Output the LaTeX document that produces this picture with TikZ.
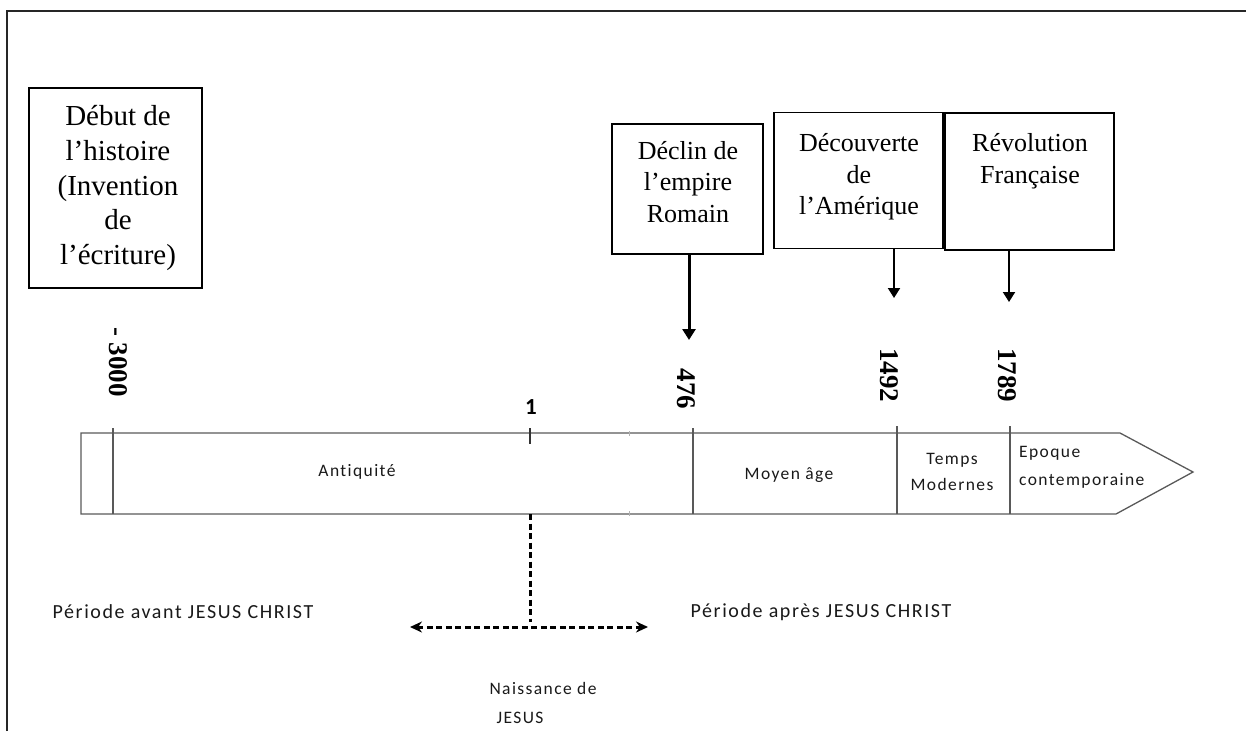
\documentclass[tikz,border=0pt]{standalone}
\usepackage{fontspec}
\setmainfont{Liberation Serif}
\newfontfamily\calib{Carlito}
\newfontfamily\calibsp[LetterSpace=8,Ligatures=NoCommon]{Carlito}
\usetikzlibrary{arrows.meta}
\begin{document}
\begin{tikzpicture}[x=1pt,y=-1pt,
  evbox/.style={draw=black, line width=1.5pt, minimum width=#1, inner sep=0pt},
  bigtxt/.style={align=center, inner sep=0pt, font=\fontsize{29}{34.7}\selectfont},
  midtxt/.style={align=center, inner sep=0pt, font=\fontsize{26}{31.5}\selectfont},
  datetxt/.style={rotate=-90, inner sep=0pt, font=\fontsize{27}{30}\selectfont\bfseries},
  small/.style={inner sep=0pt, text=black!90, font=\calibsp\fontsize{20}{28}\selectfont},
  lab/.style={inner sep=0pt, text=black!90, font=\calibsp\fontsize{17.5}{26}\selectfont},
  tl/.style={draw=black!65, line width=1.3pt},
  sep/.style={draw=black!65, line width=1.3pt},
  evarrow/.style={draw=black, -{Triangle[length=11pt,width=13pt]}},
  dsh/.style={draw=black, line width=3pt, dash pattern=on 6pt off 3.5pt}
]
\useasboundingbox (0,0) rectangle (1246,731);
% frame
\draw[line width=1.6pt, black!85] (7,731) -- (7,11) -- (1246,11);

% timeline arrow
\draw[tl] (81,433) -- (1120,433) -- (1193,472) -- (1116,514) -- (81,514) -- cycle;
\draw[sep, line width=2.2pt] (113,428) -- (113,514);
\draw[sep] (693,428) -- (693,514);
\draw[sep] (897,426) -- (897,514);
\draw[sep] (1010,426) -- (1010,514);
\draw[draw=black!80, line width=1.6pt] (530,428) -- (530,444);
\draw[draw=black!30, line width=1pt] (629,431) -- (629,436);
\draw[draw=black!30, line width=1pt] (629,511) -- (629,516);

% period labels inside arrow
\node[lab] (antiq) at (357,472) {Antiquité};
\node[lab] (moyen) at (789,475) {Moyen âge};
\node[lab, align=center] (modern) at (952,472) {Temps\\Modernes};
\node[lab, font=\calibsp\fontsize{17.5}{28}\selectfont, align=left, anchor=west] (contemp) at (1019,467) {Epoque\\contemporaine};

% event boxes
\node[evbox=173pt, minimum height=200pt] (debut) at (115.5,188) {};
\node[bigtxt] (debuttxt) at (118,188) {Début de\\l’histoire\\(Invention\\de\\l’écriture)};

\node[evbox=151pt, minimum height=130pt] (declin) at (687.5,189) {};
\node[midtxt] (declintxt) at (688,182) {Déclin de\\l’empire\\Romain};

\node[evbox=169pt, minimum height=136pt] (decouv) at (858.5,180.5) {};
\node[midtxt] (decouvtxt) at (859,177) {Découverte\\de\\l’Amérique};

\node[evbox=169pt, minimum height=137pt] (revol) at (1029.5,181.5) {};
\node[midtxt] (revoltxt) at (1030,161) {Révolution\\Française};

% arrow targets
\coordinate (t476) at (689,340);
\coordinate (t1492) at (894,298);
\coordinate (t1789) at (1009,302);
\draw[evarrow, line width=3pt] (declin.south -| t476) -- (t476);
\draw[evarrow, line width=2pt, -{Triangle[length=10pt,width=12pt]}] (decouv.south -| t1492) -- (t1492);
\draw[evarrow, line width=2pt, -{Triangle[length=10pt,width=12pt]}] (revol.south -| t1789) -- (t1789);

% dates
\node[datetxt] (d3000) at (118,362) {- 3000};
\node[datetxt] (d476) at (686,389) {476};
\node[datetxt] (d1492) at (889,375) {1492};
\node[datetxt] (d1789) at (1007,375) {1789};
\node[inner sep=0pt, font=\calib\fontsize{23}{26}\selectfont\bfseries] (d1) at (531,407) {1};

% birth of Jesus
\coordinate (jtop) at (530,514);
\coordinate (jbot) at (530,622);
\coordinate (jl) at (410,627);
\coordinate (jr) at (648,627);
\draw[dsh] (jtop) -- (jbot);
\draw[dsh, {Stealth[length=12pt,width=11pt]}-{Stealth[length=12pt,width=11pt]}] (jl) -- (jr);

\node[small] (avant) at (183,612) {Période avant JESUS CHRIST};
\node[small] (apres) at (821,612) {Période après JESUS CHRIST};
\node[lab] (naiss) at (543,688) {Naissance de};
\node[lab] (jesus) at (520,718) {JESUS};
\end{tikzpicture}
\end{document}
